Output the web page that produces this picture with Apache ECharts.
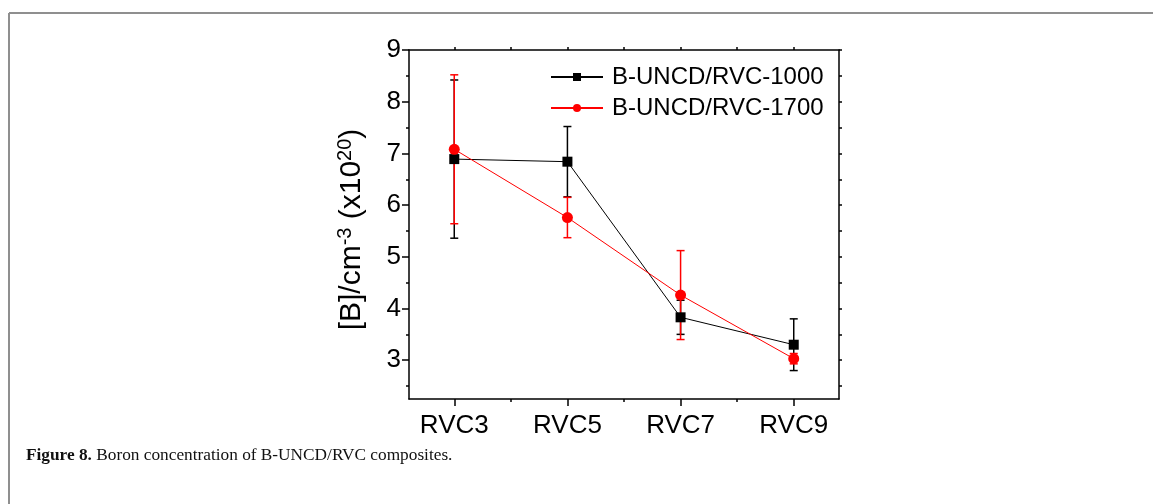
<!DOCTYPE html>
<html><head><meta charset="utf-8">
<script src="https://cdn.jsdelivr.net/npm/echarts@6/dist/echarts.min.js"></script>
<style>html,body{margin:0;padding:0;background:#fff}#c{width:1153px;height:504px}</style>
</head><body><div id="c"></div>
<script>
const categories = ['RVC3', 'RVC5', 'RVC7', 'RVC9'];
const seriesNames = ['B-UNCD/RVC-1000', 'B-UNCD/RVC-1700'];
const values1000 = [6.89, 6.84, 3.83, 3.30];
const errors1000 = [1.53, 0.68, 0.33, 0.50];
const values1700 = [7.08, 5.76, 4.26, 3.03];
const errors1700 = [1.44, 0.39, 0.86, 0.10];
const yMajorTicks = [3, 4, 5, 6, 7, 8, 9];
const yMinorTicks = [2.5, 3.5, 4.5, 5.5, 6.5, 7.5, 8.5];
const xMajorTicks = [0, 1, 2, 3];
const xMinorTicks = [0.5, 1.5, 2.5];

const FONT = '"Liberation Sans", Arial, sans-serif';
const X_MIN = -0.4, X_MAX = 3.4, Y_MIN = 2.25, Y_MAX = 9;

const pts = v => v.map((y, i) => [i, y]);
const errs = (v, e) => v.map((y, i) => [i, y - e[i], y + e[i]]);

function errRenderer(color) {
  return function (params, api) {
    const x = api.value(0), lo = api.value(1), hi = api.value(2);
    const a = api.coord([x, lo]), b = api.coord([x, hi]);
    const w = 4, st = { stroke: color, lineWidth: 1.5 };
    return { type: 'group', children: [
      { type: 'line', shape: { x1: a[0], y1: a[1], x2: b[0], y2: b[1] }, style: st },
      { type: 'line', shape: { x1: a[0] - w, y1: a[1], x2: a[0] + w, y2: a[1] }, style: st },
      { type: 'line', shape: { x1: b[0] - w, y1: b[1], x2: b[0] + w, y2: b[1] }, style: st }
    ]};
  };
}

const blackLine = { color: '#000', width: 1.5 };
const allHalf = yMajorTicks.concat(yMinorTicks).sort((a, b) => a - b);
const allXHalf = xMajorTicks.concat(xMinorTicks).sort((a, b) => a - b);

const option = {
  animation: false,
  backgroundColor: '#fff',
  grid: { left: 409, right: 314, top: 50, bottom: 105, containLabel: false },
  legend: {
    data: seriesNames,
    orient: 'vertical',
    left: 550, top: 65, padding: 0,
    itemWidth: 52, itemHeight: 10, itemGap: 7,
    textStyle: { fontSize: 24, fontFamily: FONT, color: '#000', padding: [0, 0, 0, 4] }
  },
  xAxis: [
    { type: 'value', min: X_MIN, max: X_MAX, position: 'bottom',
      axisLine: { show: true, onZero: false, lineStyle: blackLine },
      axisTick: { show: true, customValues: xMajorTicks, length: 7, lineStyle: blackLine },
      axisLabel: { show: true, customValues: xMajorTicks, formatter: v => categories[Math.round(v)],
        fontSize: 26, fontFamily: FONT, color: '#000', margin: 14 },
      splitLine: { show: false } },
    { type: 'value', min: X_MIN, max: X_MAX, position: 'bottom',
      axisLine: { show: false, onZero: false },
      axisTick: { show: true, customValues: xMinorTicks, length: 3, lineStyle: blackLine },
      axisLabel: { show: false }, splitLine: { show: false } },
    { type: 'value', min: X_MIN, max: X_MAX, position: 'top',
      axisLine: { show: true, onZero: false, lineStyle: blackLine },
      axisTick: { show: true, customValues: allXHalf, length: 3, lineStyle: blackLine },
      axisLabel: { show: false }, splitLine: { show: false } }
  ],
  yAxis: [
    { type: 'value', min: Y_MIN, max: Y_MAX, position: 'left',
      axisLine: { show: true, onZero: false, lineStyle: blackLine },
      axisTick: { show: true, customValues: yMajorTicks, length: 7, lineStyle: blackLine },
      axisLabel: { show: true, customValues: yMajorTicks, fontSize: 26, fontFamily: FONT, color: '#000', margin: 8 },
      splitLine: { show: false },
      name: '[B]/cm{sup|-3} (x10{sup|20})',
      nameLocation: 'middle', nameGap: 40, nameRotate: 90,
      nameTextStyle: { fontSize: 30, fontFamily: FONT, color: '#000', lineHeight: 34, padding: [0, 10, 0, 0],
        rich: { sup: { fontSize: 20, fontFamily: FONT, color: '#000', verticalAlign: 'top', lineHeight: 20 } } } },
    { type: 'value', min: Y_MIN, max: Y_MAX, position: 'left',
      axisLine: { show: false, onZero: false },
      axisTick: { show: true, customValues: yMinorTicks, length: 3, lineStyle: blackLine },
      axisLabel: { show: false }, splitLine: { show: false } },
    { type: 'value', min: Y_MIN, max: Y_MAX, position: 'right',
      axisLine: { show: true, onZero: false, lineStyle: blackLine },
      axisTick: { show: true, customValues: allHalf, length: 3, lineStyle: blackLine },
      axisLabel: { show: false }, splitLine: { show: false } }
  ],
  series: [
    { name: 'err1000', type: 'custom', xAxisIndex: 0, yAxisIndex: 0, z: 2,
      renderItem: errRenderer('#000'), encode: { x: 0, y: [1, 2] }, data: errs(values1000, errors1000) },
    { name: 'err1700', type: 'custom', xAxisIndex: 0, yAxisIndex: 0, z: 3,
      renderItem: errRenderer('#ff0000'), encode: { x: 0, y: [1, 2] }, data: errs(values1700, errors1700) },
    { name: seriesNames[0], type: 'line', xAxisIndex: 0, yAxisIndex: 0, z: 4,
      data: pts(values1000), symbol: 'rect', symbolSize: 10,
      itemStyle: { color: '#000' }, lineStyle: { color: '#000', width: 1 } },
    { name: seriesNames[1], type: 'line', xAxisIndex: 0, yAxisIndex: 0, z: 5,
      data: pts(values1700), symbol: 'circle', symbolSize: 11,
      itemStyle: { color: '#ff0000' }, lineStyle: { color: '#ff0000', width: 1 } }
  ],
  graphic: [
    { type: 'line', shape: { x1: 9, y1: 13, x2: 1153, y2: 13 }, style: { stroke: '#8f8f8f', lineWidth: 2 } },
    { type: 'line', shape: { x1: 9, y1: 13, x2: 9, y2: 504 }, style: { stroke: '#8f8f8f', lineWidth: 2 } },
    { type: 'text', left: 26, top: 447,
      style: { text: '{b|Figure 8.} Boron concentration of B-UNCD/RVC composites.',
        fontSize: 17.3, fontFamily: '"Liberation Serif", "DejaVu Serif", serif', fill: '#111',
        rich: { b: { fontWeight: 'bold', fontSize: 17.3, fontFamily: '"Liberation Serif", serif', fill: '#111' } } } }
  ]
};
const chart = echarts.init(document.getElementById('c'), null, { renderer: 'canvas' });
chart.setOption(option);
</script>
</body></html>
